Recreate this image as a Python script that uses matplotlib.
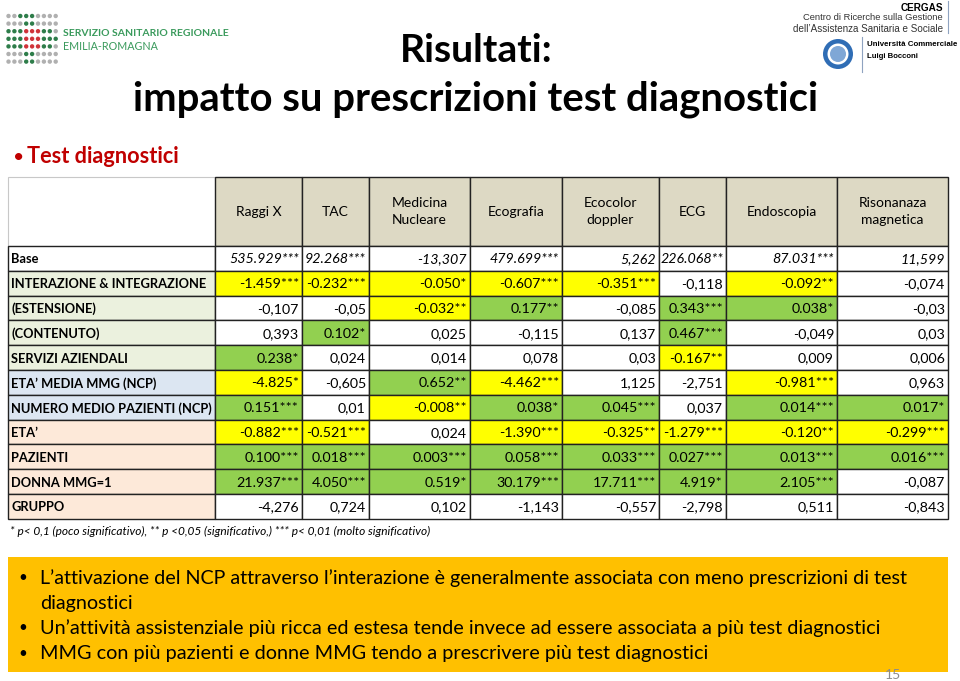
import numpy as np
import matplotlib.pyplot as plt
from matplotlib.patches import Rectangle, Circle

# ---- data ----
tests = ["Raggi X", "TAC", "Medicina\nNucleare", "Ecografia", "Ecocolor\ndoppler",
         "ECG", "Endoscopia", "Risonanaza\nmagnetica"]

variables = ["Base", "INTERAZIONE & INTEGRAZIONE", "(ESTENSIONE)", "(CONTENUTO)",
             "SERVIZI AZIENDALI", "ETA\u2019 MEDIA MMG (NCP)", "NUMERO MEDIO PAZIENTI (NCP)",
             "ETA\u2019", "PAZIENTI", "DONNA MMG=1", "GRUPPO"]
var_group = ["base", "ncp", "ncp", "ncp", "ncp", "media", "media", "mmg", "mmg", "mmg", "mmg"]

base        = ["535.929***", "92.268***", "-13,307", "479.699***", "5,262", "226.068**", "87.031***", "11,599"]
interazione = ["-1.459***", "-0.232***", "-0.050*", "-0.607***", "-0.351***", "-0,118", "-0.092**", "-0,074"]
estensione  = ["-0,107", "-0,05", "-0.032**", "0.177**", "-0,085", "0.343***", "0.038*", "-0,03"]
contenuto   = ["0,393", "0.102*", "0,025", "-0,115", "0,137", "0.467***", "-0,049", "0,03"]
servizi     = ["0.238*", "0,024", "0,014", "0,078", "0,03", "-0.167**", "0,009", "0,006"]
eta_media   = ["-4.825*", "-0,605", "0.652**", "-4.462***", "1,125", "-2,751", "-0.981***", "0,963"]
num_pazienti= ["0.151***", "0,01", "-0.008**", "0.038*", "0.045***", "0,037", "0.014***", "0.017*"]
eta         = ["-0.882***", "-0.521***", "0,024", "-1.390***", "-0.325**", "-1.279***", "-0.120**", "-0.299***"]
pazienti    = ["0.100***", "0.018***", "0.003***", "0.058***", "0.033***", "0.027***", "0.013***", "0.016***"]
donna       = ["21.937***", "4.050***", "0.519*", "30.179***", "17.711***", "4.919*", "2.105***", "-0,087"]
gruppo      = ["-4,276", "0,724", "0,102", "-1,143", "-0,557", "-2,798", "0,511", "-0,843"]
rows = [base, interazione, estensione, contenuto, servizi, eta_media, num_pazienti,
        eta, pazienti, donna, gruppo]

footnote = "* p< 0,1 (poco significativo), ** p <0,05 (significativo,) *** p< 0,01 (molto significativo)"
bullets = ["L\u2019attivazione del NCP attraverso l\u2019interazione \u00e8 generalmente associata con meno prescrizioni di test",
           "Un\u2019attivit\u00e0 assistenziale pi\u00f9 ricca ed estesa tende invece ad essere associata a pi\u00f9 test diagnostici",
           "MMG con pi\u00f9 pazienti e donne MMG tendo a prescrivere pi\u00f9 test diagnostici"]
bullet_wrap = "diagnostici"

# ---- styles ----
FONT = "Lato"
group_color = {"base": "white", "ncp": "#EBF1DE", "media": "#DCE6F2", "mmg": "#FDE9D9"}
YELLOW, GREEN, TAN = "#FFFF00", "#92D050", "#DDD9C4"

col_x = [8, 215, 302, 369, 470, 562, 659, 726, 837, 948]
head_top, head_bot = 177, 246
row_h = 24.8

fig = plt.figure(figsize=(9.6, 6.81), dpi=100)
ax = fig.add_axes([0, 0, 1, 1])
ax.set_xlim(0, 960)
ax.set_ylim(681, 0)
ax.axis("off")
renderer = fig.canvas.get_renderer()


def fit(t, width):
    bb = t.get_window_extent(renderer)
    t.set_fontsize(t.get_fontsize() * width / bb.width)
    return t.get_fontsize()


# ---- logos ----
pattern = ["..ggg....",
           "...gg....",
           "gggrrrgg.",
           "gggrrrggg",
           "gggrrrgg.",
           "...gg....",
           "...gg...."]
dot_col = {".": "#B0B0B0", "g": "#2E7D4A", "r": "#D0343A"}
for r, line in enumerate(pattern):
    for c, ch in enumerate(line):
        ax.add_patch(Circle((8.5 + c * 5.9, 16 + r * 7.6), 2.2, color=dot_col[ch], lw=0))
t = ax.text(63, 34, "SERVIZIO SANITARIO REGIONALE", fontsize=8, fontweight="bold",
            color="#3A9A5C", family=FONT, va="center")
fit(t, 165)
t = ax.text(63, 46, "EMILIA-ROMAGNA", fontsize=8, color="#3A9A5C", family=FONT, va="center")
fit(t, 95)

ax.text(943, 8, "CERGAS", fontsize=7.2, fontweight="bold", ha="right", va="center",
        family="Liberation Sans")
t = ax.text(943, 18, "Centro di Ricerche sulla Gestione", fontsize=6.6, ha="right", va="center",
            family="Liberation Sans", color="#333333")
fit(t, 141)
t = ax.text(943, 29, "dell\u2019Assistenza Sanitaria e Sociale", fontsize=6.6, ha="right",
            va="center", family="Liberation Sans", color="#333333")
fit(t, 152)
ax.plot([948, 948], [1, 33], color="#8FA3C0", lw=0.8)
ax.plot([862, 862], [37, 72], color="#8FA3C0", lw=0.8)
ax.add_patch(Circle((838, 54), 15, color="#2F6DB5", lw=0))
ax.add_patch(Circle((838, 54), 10.5, color="white", lw=0))
ax.add_patch(Circle((838, 54), 8, color="#7FA7D6", lw=0))
t = ax.text(867, 45, "Universit\u00e0 Commerciale", fontsize=6.4, fontweight="bold",
            va="center", family="Liberation Sans")
fit(t, 90)
t = ax.text(867, 57, "Luigi Bocconi", fontsize=6.4, fontweight="bold", va="center",
            family="Liberation Sans")
fit(t, 52)

# ---- title ----
t = ax.text(476, 62, "Risultati:", fontsize=27, fontweight="bold", ha="center",
            va="baseline", family=FONT)
fit(t, 152)
t = ax.text(476, 110, "impatto su prescrizioni test diagnostici", fontsize=27,
            fontweight="bold", ha="center", va="baseline", family=FONT)
fit(t, 683)
ax.text(13, 163, "\u2022", fontsize=14, color="#C00000", va="baseline", family=FONT)
t = ax.text(27, 163, "Test diagnostici", fontsize=16, fontweight="bold", color="#C00000",
            va="baseline", family=FONT)
fit(t, 153)

# ---- table header ----
ax.add_patch(Rectangle((col_x[0], head_top), col_x[1] - col_x[0], head_bot - head_top,
                       facecolor="white", edgecolor="#C8C8C8", lw=0.8))
for j, name in enumerate(tests):
    x0, x1 = col_x[j + 1], col_x[j + 2]
    ax.add_patch(Rectangle((x0, head_top), x1 - x0, head_bot - head_top,
                           facecolor=TAN, edgecolor="#222222", lw=1.0))
    ax.text((x0 + x1) / 2, (head_top + head_bot) / 2, name, fontsize=10, ha="center",
            va="center", family=FONT, linespacing=1.45)

# ---- table body ----
t = ax.text(11, 0, variables[1], fontsize=10, fontweight="bold", family=FONT)
label_fs = fit(t, 196)
t.remove()
for i, (var, vals) in enumerate(zip(variables, rows)):
    y0 = head_bot + i * row_h
    ax.add_patch(Rectangle((col_x[0], y0), col_x[1] - col_x[0], row_h,
                           facecolor=group_color[var_group[i]], edgecolor="#222222", lw=1.0))
    ax.text(col_x[0] + 3, y0 + row_h / 2 + 1, var, fontsize=label_fs, fontweight="bold",
            va="center", family=FONT)
    for j, v in enumerate(vals):
        x0, x1 = col_x[j + 1], col_x[j + 2]
        fc = "white"
        if i > 0 and "*" in v:
            fc = YELLOW if v.startswith("-") else GREEN
        ax.add_patch(Rectangle((x0, y0), x1 - x0, row_h, facecolor=fc,
                               edgecolor="#222222", lw=1.0))
        ax.text(x1 - 3, y0 + row_h / 2 + 1, v, fontsize=10.3, ha="right", va="center",
                family=FONT, style="italic" if i == 0 else "normal")

t = ax.text(10, 531, footnote, fontsize=8, style="italic", va="center", family=FONT)
fit(t, 422)

# ---- conclusions box ----
ax.add_patch(Rectangle((8, 557), 940, 115, facecolor="#FFC000", edgecolor="none"))
ys = [578, 628, 654]
widths = [868, 841, 666]
fs = 13
for k, (y, b) in enumerate(zip(ys, bullets)):
    ax.text(18, y, "\u2022", fontsize=11, va="center", family=FONT)
    t = ax.text(40, y, b, fontsize=13, va="center", family=FONT)
    s = fit(t, widths[k])
    if k == 0:
        fs = s
ax.text(40, 603, bullet_wrap, fontsize=fs, va="center", family=FONT)

ax.text(893, 675, "15", fontsize=10, color="#8C8C8C", ha="center", va="center", family=FONT)

fig.savefig("out.png", dpi=100)
